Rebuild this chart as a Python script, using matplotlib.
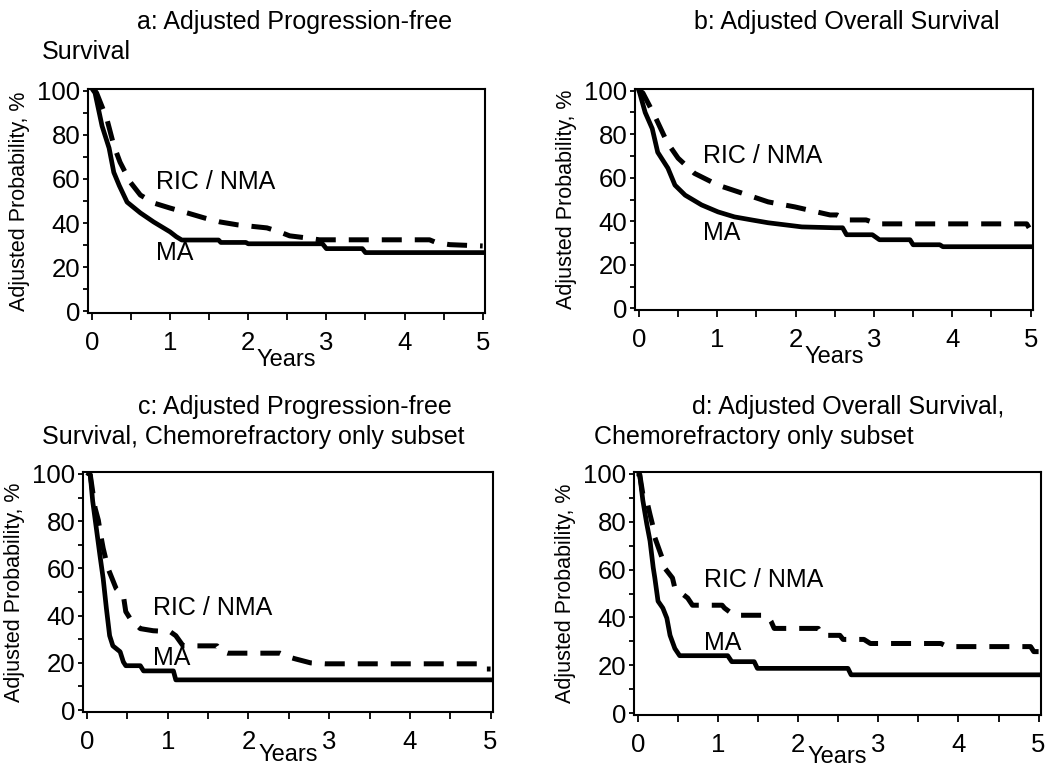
import matplotlib
matplotlib.use("Agg")
import matplotlib.pyplot as plt
from matplotlib.ticker import MultipleLocator

plt.rcParams["font.family"] = ["Liberation Sans", "DejaVu Sans"]

# traced curve vertices (years, adjusted probability %)
pfs_ma_t = [0.02, 0.04, 0.13, 0.22, 0.28, 0.35, 0.45, 0.62, 0.79, 1.00, 1.08, 1.15, 1.62, 1.65,
            1.97, 2.00, 2.95, 3.00, 3.46, 3.50, 5.00]
pfs_ma_s = [100, 99, 84, 74, 63, 57, 49.5, 44.6, 40.5, 36, 33.8, 32.3, 32.3, 31.2,
            31.2, 30.6, 30.6, 28.4, 28.4, 26.6, 26.6]
pfs_ric_t = [0.04, 0.06, 0.19, 0.28, 0.36, 0.49, 0.62, 0.79, 1.00, 1.22, 1.44, 1.64, 1.86, 2.24,
             2.40, 2.53, 2.76, 2.91, 4.32, 4.41, 4.58, 5.00]
pfs_ric_s = [100, 99, 87.4, 75.2, 67.6, 58.6, 52.7, 49.1, 46.8, 44.6, 42.3, 40.5, 39.2, 37.8,
             36, 34.2, 33.2, 32.4, 32.4, 31.1, 30.2, 29.6]

os_ma_t = [0.0, 0.01, 0.08, 0.17, 0.24, 0.37, 0.46, 0.59, 0.80, 1.01, 1.22, 1.44, 1.65, 2.08,
           2.50, 2.60, 2.65, 2.98, 3.07, 3.46, 3.50, 3.84, 3.88, 5.00]
os_ma_s = [100, 99, 90, 82.6, 71.7, 64.4, 56.6, 52, 47.5, 44.3, 42, 40.6, 39.3, 37.4,
           37, 37, 33.8, 33.8, 31.5, 31.5, 29.2, 29.2, 28.3, 28.3]
os_ric_t = [0.01, 0.05, 0.20, 0.36, 0.50, 0.71, 1.01, 1.31, 1.65, 1.99, 2.33, 2.44, 2.53, 2.65,
            2.90, 3.04, 4.95, 4.98]
os_ric_s = [100, 99, 88.6, 76.3, 69, 62, 56.6, 53, 48.9, 46.6, 43.8, 42.9, 42.9, 40.6,
            40.6, 38.8, 38.8, 37]

cr_pfs_ma_t = [0.02, 0.04, 0.07, 0.11, 0.16, 0.20, 0.24, 0.28, 0.32, 0.41, 0.45, 0.48, 0.66,
               0.70, 1.07, 1.10, 5.00]
cr_pfs_ma_s = [100, 99.6, 88.5, 78.3, 65.5, 55.7, 43, 31.5, 27.2, 24.7, 20.4, 18.8, 18.8,
               16.6, 16.6, 12.8, 12.8]
cr_pfs_ric_t = [0.03, 0.04, 0.10, 0.14, 0.17, 0.20, 0.26, 0.36, 0.45, 0.48, 0.55, 0.66, 0.82,
                1.03, 1.10, 1.19, 1.61, 1.65, 1.74, 2.39, 2.48, 2.58, 2.77, 2.95, 4.88, 4.92, 5.00]
cr_pfs_ric_s = [100, 99.6, 85.5, 80.4, 74, 68.5, 60, 51.5, 48.5, 41.7, 37.9, 34.5, 33.6,
                33.2, 31.5, 27.2, 27.2, 25.1, 24.1, 24.1, 22.7, 21.7, 20, 19.6, 19.6, 17.4, 17.4]

cr_os_ma_t = [0.01, 0.02, 0.06, 0.11, 0.15, 0.19, 0.21, 0.25, 0.31, 0.36, 0.40, 0.46, 0.52,
              1.12, 1.17, 1.45, 1.49, 2.62, 2.66, 5.00]
cr_os_ma_s = [100, 100, 89, 79, 72, 60.8, 56.5, 46.8, 43.9, 39.7, 32.5, 27, 24,
              24, 21.5, 21.5, 18.7, 18.7, 16, 16]
cr_os_ric_t = [0.02, 0.06, 0.12, 0.15, 0.19, 0.21, 0.30, 0.33, 0.43, 0.46, 0.62, 0.68, 1.05,
               1.08, 1.20, 1.61, 1.66, 1.70, 2.25, 2.30, 2.52, 2.56, 2.82, 2.90, 3.78, 3.86,
               4.90, 4.94, 5.00]
cr_os_ric_s = [100, 91.6, 87.3, 83, 77.6, 73.4, 65, 60.8, 56.5, 52.3, 48.1, 45.1, 45.1,
               43.9, 40.9, 40.9, 38.4, 35.4, 35.4, 32.5, 32.5, 30.8, 30.8, 29.1, 29.1, 27.8,
               27.8, 25.7, 25.7]

x_ticks = [0, 1, 2, 3, 4, 5]
y_ticks = [0, 20, 40, 60, 80, 100]

W, H = 1050, 771
fig = plt.figure(figsize=(W / 100, H / 100), dpi=100)


def rect(left, right, top, bottom):
    return [left / W, 1 - bottom / H, (right - left) / W, (bottom - top) / H]


def fig_text(x, y, s, ha):
    fig.text(x / W, 1 - y / H, s, ha=ha, va="center", fontsize=18)


panels = [
    # axes box (px), curves, label y positions, "Years" offset
    (rect(88, 485, 89, 313), pfs_ma_t, pfs_ma_s, pfs_ric_t, pfs_ric_s, 58.5, 26.5, -34),
    (rect(635, 1033, 89, 310), os_ma_t, os_ma_s, os_ric_t, os_ric_s, 70, 34.7, -34),
    (rect(83, 493, 472, 712), cr_pfs_ma_t, cr_pfs_ma_s, cr_pfs_ric_t, cr_pfs_ric_s, 43.4, 22, -31),
    (rect(634, 1041, 472, 715), cr_os_ma_t, cr_os_ma_s, cr_os_ric_t, cr_os_ric_s, 55.7, 29.5, -30),
]

for box, ma_t, ma_s, ric_t, ric_s, ric_y, ma_y, years_dy in panels:
    ax = fig.add_axes(box)
    ax.plot(ma_t, ma_s, color="black", lw=3.4, solid_joinstyle="round")
    ax.plot(ric_t, ric_s, color="black", lw=3.6, dashes=(4, 2.6), dash_capstyle="butt")
    ax.set_xlim(-0.05, 5.03)
    ax.set_ylim(-0.8, 100.8)
    ax.set_xticks(x_ticks)
    ax.set_yticks(y_ticks)
    ax.xaxis.set_minor_locator(MultipleLocator(0.5))
    ax.yaxis.set_minor_locator(MultipleLocator(10))
    ax.tick_params(axis="x", which="both", direction="out", length=5, width=1.3,
                   labelsize=18.5, pad=8)
    ax.tick_params(axis="y", which="both", direction="out", length=3.5, width=1.3,
                   labelsize=18.5, pad=2)
    for sp in ax.spines.values():
        sp.set_linewidth(1.5)
    ax.set_ylabel("Adjusted Probability, %", fontsize=15.5, labelpad=5)
    ax.annotate("Years", xy=(0.5, 0), xycoords="axes fraction", xytext=(0, years_dy),
                textcoords="offset points", ha="center", va="center", fontsize=17)
    ax.text(0.82, ric_y, "RIC / NMA", ha="left", va="center", fontsize=18)
    ax.text(0.82, ma_y, "MA", ha="left", va="center", fontsize=18)

fig_text(295, 22, "a: Adjusted Progression-free", "center")
fig_text(42, 52, "Survival", "left")
fig_text(847, 22, "b: Adjusted Overall Survival", "center")
fig_text(295, 407, "c: Adjusted Progression-free", "center")
fig_text(42, 437, "Survival, Chemorefractory only subset", "left")
fig_text(848, 407, "d: Adjusted Overall Survival,", "center")
fig_text(594, 437, "Chemorefractory only subset", "left")

fig.savefig("out.png", dpi=100)
